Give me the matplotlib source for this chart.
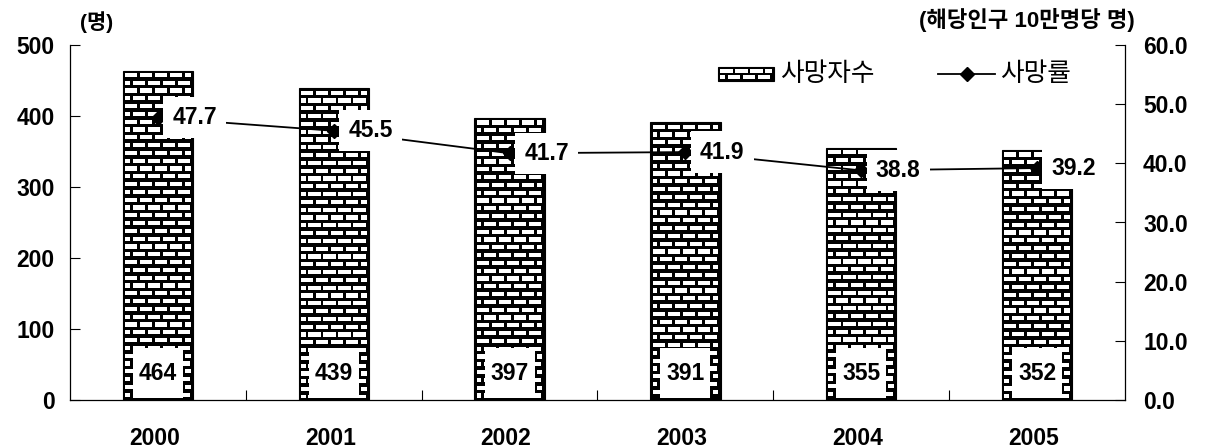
import matplotlib
matplotlib.use("Agg")
import matplotlib.pyplot as plt
from matplotlib.patches import Rectangle
from matplotlib.collections import PatchCollection
from matplotlib.lines import Line2D

plt.rcParams['font.family'] = ['Liberation Sans', 'Noto Sans CJK KR', 'DejaVu Sans']

years = ['2000', '2001', '2002', '2003', '2004', '2005']
deaths = [464, 439, 397, 391, 355, 352]
rates = [47.7, 45.5, 41.7, 41.9, 38.8, 39.2]
left_ticks = [0, 100, 200, 300, 400, 500]
right_ticks = [0, 10, 20, 30, 40, 50, 60]

W, H = 1207, 448
fig = plt.figure(figsize=(W / 100, H / 100), dpi=100)
ax = fig.add_axes([70 / W, 1 - 400 / H, (1125 - 70) / W, (400 - 45) / H])
ax2 = ax.twinx()

ax.set_xlim(-0.5, len(years) - 0.5)
ax.set_ylim(0, 500)
ax2.set_ylim(0, 60)

# data units per pixel
ux = len(years) / (1125 - 70)
uy = 500 / (400 - 45)

bar_w = 0.40
brick_pitch_x = 15.0 * ux
brick_w = 12.2 * ux
row_pitch = 7.8 * uy
brick_h = 4.2 * uy
border_x = 2.3 * ux
border_y = 2.3 * uy


def brick_patches(x0, y0, width, height):
    """White bricks on a black ground, laid from the top edge down."""
    patches = []
    top = y0 + height - border_y
    k = 0
    while True:
        ytop = top - k * row_pitch
        if ytop <= y0 + border_y:
            break
        ybot = max(ytop - brick_h, y0 + border_y)
        off = 0 if k % 2 == 0 else brick_pitch_x / 2
        xs = x0 + border_x - off
        while xs < x0 + width - border_x:
            a = max(xs, x0 + border_x)
            b = min(xs + brick_w, x0 + width - border_x)
            if b - a > 0.15 * brick_w:
                patches.append(Rectangle((a, ybot), b - a, ytop - ybot))
            xs += brick_pitch_x
        k += 1
    return patches


for i, v in enumerate(deaths):
    x0 = i - bar_w / 2
    ax.add_patch(Rectangle((x0, 0), bar_w, v, facecolor='black',
                           edgecolor='black', lw=0.8, zorder=2))
    pc = PatchCollection(brick_patches(x0, 0, bar_w, v), facecolor='white',
                         edgecolor='none', zorder=3)
    ax.add_collection(pc)
    # value label box near the bottom of each bar
    bw, bh = 50 * ux, 50 * uy
    ax.add_patch(Rectangle((i - bw / 2, 2 * uy), bw, bh, facecolor='white',
                           edgecolor='none', zorder=4))
    ax.text(i, 2 * uy + bh / 2, str(v), ha='center', va='center',
            fontsize=16.5, fontweight='bold', zorder=5)

# rate line on the right axis
ax2.plot(range(len(rates)), rates, color='black', lw=1.3, marker='D',
         markersize=7, zorder=6)
for i, r in enumerate(rates):
    ax2.annotate(f'{r:.1f}', (i, r), xytext=(10.5, 0), textcoords='offset points',
                 ha='left', va='center', fontsize=16.5, fontweight='bold', zorder=7,
                 bbox=dict(boxstyle='square,pad=0.4', facecolor='white',
                           edgecolor='none'))

# axes styling
for a in (ax, ax2):
    a.spines['top'].set_visible(False)
    for s in ('left', 'right', 'bottom'):
        a.spines[s].set_linewidth(0.9)
ax.spines['right'].set_visible(False)
ax2.spines['left'].set_visible(False)
ax2.spines['bottom'].set_visible(False)

ax.set_yticks(left_ticks)
ax.set_yticklabels([str(t) for t in left_ticks])
ax.tick_params(axis='y', direction='in', length=7, pad=11, labelsize=16.5)
for lab in ax.get_yticklabels():
    lab.set_fontweight('bold')

ax2.set_yticks(right_ticks)
ax2.set_yticklabels([f'{t:.1f}' for t in right_ticks])
ax2.tick_params(axis='y', direction='in', length=7, pad=13, labelsize=16.5)
for lab in ax2.get_yticklabels():
    lab.set_fontweight('bold')

ax.set_xticks([i + 0.5 for i in range(len(years) - 1)])
ax.set_xticklabels([])
ax.tick_params(axis='x', direction='in', length=7)
for i, y in enumerate(years):
    ax.text(i - 0.02, -38 / (400 - 45), y, transform=ax.get_xaxis_transform(),
            ha='center', va='center', fontsize=16.5, fontweight='bold')

# unit labels
fig.text(80 / W, 1 - 22 / H, '(명)', ha='left', va='center', fontsize=15,
         fontweight='bold')
fig.text(1135 / W, 1 - 20 / H, '(해당인구 10만명당 명)', ha='right', va='center',
         fontsize=16, fontweight='bold')

# legend
lx0, lx1, ly0, ly1 = 718, 774, 67, 81
fig.add_artist(Rectangle((lx0 / W, 1 - ly1 / H), (lx1 - lx0) / W, (ly1 - ly0) / H,
                         transform=fig.transFigure, facecolor='black',
                         edgecolor='black', lw=0.8))
for yt, off in [(ly0 + 2.3, 0), (ly0 + 8.0, 7.5)]:
    xs = lx0 + 2.3 - off
    while xs < lx1 - 2.3:
        a = max(xs, lx0 + 2.3)
        b = min(xs + 12.2, lx1 - 2.3)
        if b - a > 1.5:
            fig.add_artist(Rectangle((a / W, 1 - (yt + 4.0) / H), (b - a) / W,
                                     4.0 / H, transform=fig.transFigure,
                                     facecolor='white', edgecolor='none'))
        xs += 15.0
fig.text(780 / W, 1 - 74 / H, '사망자수', ha='left', va='center', fontsize=18.5)
fig.add_artist(Line2D([938 / W, 995 / W], [1 - 74 / H, 1 - 74 / H],
                      transform=fig.transFigure, color='black', lw=1.3))
fig.add_artist(Line2D([966.5 / W], [1 - 74 / H], transform=fig.transFigure,
                      color='black', marker='D', markersize=7))
fig.text(1000 / W, 1 - 74 / H, '사망률', ha='left', va='center', fontsize=18.5)

fig.savefig('out.png', dpi=100, facecolor='white')
